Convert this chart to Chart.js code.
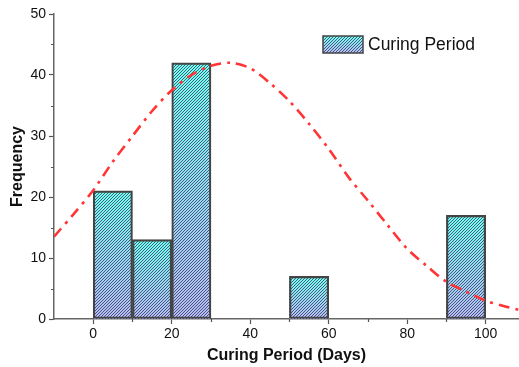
<!DOCTYPE html>
<html>
<head>
<meta charset="utf-8">
<script src="https://cdn.jsdelivr.net/npm/chart.js@4.4.1/dist/chart.umd.min.js"></script>
<style>
  html, body { margin: 0; padding: 0; background: #fff; }
  #wrap { width: 519px; height: 367px; }
</style>
</head>
<body>
<div id="wrap"><canvas id="histChart" width="519" height="367"></canvas></div>
<script>
// histogram bins (days) and counts
const binStart = [0, 10, 20, 50, 90];
const binEnd = [10, 20, 30, 60, 100];
const frequency = [21, 13, 42, 7, 17];

// fitted normal curve
const curveX = [-10, -5, 0, 5, 10, 15, 20, 25, 30, 35, 40, 45, 50, 55, 60, 65, 70, 75, 80, 85, 90, 95, 100, 105, 108.5];
const curveY = [13.5, 17.2, 21.1, 25.8, 30.0, 34.1, 37.5, 40.0, 41.5, 42.0, 41.1, 38.7, 35.7, 32.0, 27.9, 23.3, 19.4, 15.4, 11.5, 8.7, 6.1, 4.5, 3.0, 2.05, 1.5];

const xTicks = [0, 20, 40, 60, 80, 100];
const xMinorTicks = [10, 30, 50, 70, 90];
const yTicks = [0, 10, 20, 30, 40, 50];
const yMinorTicks = [5, 15, 25, 35, 45];

const seriesLabel = 'Curing Period';
const FONT = "'Liberation Sans', Arial, sans-serif";

// gradient cyan -> lavender with crisp "/" hatching, like the Origin fill
function fillHatched(ctx, left, top, w, h) {
    const l = Math.round(left), t = Math.round(top);
    const r = Math.round(left + w), b = Math.round(top + h);
    const grad = ctx.createLinearGradient(0, t, 0, b);
    grad.addColorStop(0, '#72fff4');
    grad.addColorStop(1, '#b6bcf8');
    ctx.save();
    ctx.fillStyle = grad;
    ctx.fillRect(l, t, r - l, b - t);
    ctx.fillStyle = 'rgba(45, 45, 75, 0.75)';
    for (let y = t; y < b; y++) {
        for (let x = l; x < r; x++) {
            if ((x + y) % 3 === 0) ctx.fillRect(x, y, 1, 1);
        }
    }
    ctx.restore();
}

const hatchPlugin = {
    id: 'hatch',
    beforeDatasetDraw(chart, args) {
        if (args.meta.type !== 'bar') return;
        args.meta.data.forEach(bar => {
            const p = bar.getProps(['x', 'y', 'base', 'width'], true);
            fillHatched(chart.ctx, p.x - p.width / 2, p.y, p.width, p.base - p.y);
        });
    },
    afterDraw(chart) {
        const ctx = chart.ctx;
        const xs = chart.scales.x, ys = chart.scales.y;
        const area = chart.chartArea;

        // minor ticks
        ctx.save();
        ctx.strokeStyle = '#555';
        ctx.lineWidth = 1.2;
        ctx.beginPath();
        xMinorTicks.forEach(v => {
            const px = Math.round(xs.getPixelForValue(v)) + 0.5;
            ctx.moveTo(px, area.bottom);
            ctx.lineTo(px, area.bottom + 3);
        });
        yMinorTicks.forEach(v => {
            const py = Math.round(ys.getPixelForValue(v)) + 0.5;
            ctx.moveTo(area.left, py);
            ctx.lineTo(area.left - 3, py);
        });
        ctx.stroke();

        // legend box inside the plot
        fillHatched(ctx, 323, 36, 40, 17);
        ctx.strokeStyle = '#444';
        ctx.lineWidth = 1.5;
        ctx.strokeRect(323, 36, 40, 17);
        ctx.fillStyle = '#111';
        ctx.font = '17.5px ' + FONT;
        ctx.textBaseline = 'middle';
        ctx.textAlign = 'left';
        ctx.fillText(seriesLabel, 368, 45);
        ctx.restore();
    }
};

const barData = binStart.map((s, i) => ({ x: (s + binEnd[i]) / 2, y: frequency[i] }));
const curveData = curveX.map((x, i) => ({ x: x, y: curveY[i] }));

new Chart(document.getElementById('histChart'), {
    type: 'bar',
    data: {
        datasets: [
            {
                type: 'line',
                label: 'Normal fit',
                data: curveData,
                borderColor: '#ff3535',
                borderWidth: 2.6,
                borderDash: [11, 6, 3, 6],
                pointRadius: 0,
                tension: 0.3,
                fill: false,
                order: 0
            },
            {
                type: 'bar',
                label: seriesLabel,
                data: barData,
                backgroundColor: 'rgba(0,0,0,0)',
                borderColor: '#444',
                borderWidth: 1.5,
                borderSkipped: false,
                barPercentage: 1,
                categoryPercentage: 1,
                order: 1
            }
        ]
    },
    options: {
        responsive: false,
        animation: false,
        layout: { padding: { top: 14, right: 0, bottom: 0, left: 0 } },
        plugins: {
            legend: { display: false },
            tooltip: { enabled: false }
        },
        scales: {
            x: {
                type: 'linear',
                min: -10,
                max: 108.5,
                offset: false,
                grid: { display: true, drawOnChartArea: false, offset: false, tickLength: 5, tickColor: '#555', tickWidth: 1.2 },
                border: { color: '#666', width: 1.5 },
                afterBuildTicks: s => { s.ticks = xTicks.map(v => ({ value: v })); },
                ticks: { color: '#111', font: { family: FONT, size: 14 }, padding: 2, maxRotation: 0 },
                title: {
                    display: true, text: 'Curing Period (Days)', color: '#111',
                    font: { family: FONT, size: 16, weight: 'bold' },
                    padding: { top: 2, bottom: 2 }
                },
                afterFit: s => { s.height = 48; }
            },
            y: {
                min: 0,
                max: 50,
                grid: { display: true, drawOnChartArea: false, tickLength: 5, tickColor: '#555', tickWidth: 1.2 },
                border: { color: '#666', width: 1.5 },
                afterBuildTicks: s => { s.ticks = yTicks.map(v => ({ value: v })); },
                ticks: { color: '#111', font: { family: FONT, size: 14 }, padding: 3 },
                title: {
                    display: true, text: 'Frequency', color: '#111',
                    font: { family: FONT, size: 16, weight: 'bold' },
                    padding: { top: 8, bottom: 2 }
                },
                afterFit: s => { s.width = 54; }
            }
        }
    },
    plugins: [hatchPlugin]
});
</script>
</body>
</html>
